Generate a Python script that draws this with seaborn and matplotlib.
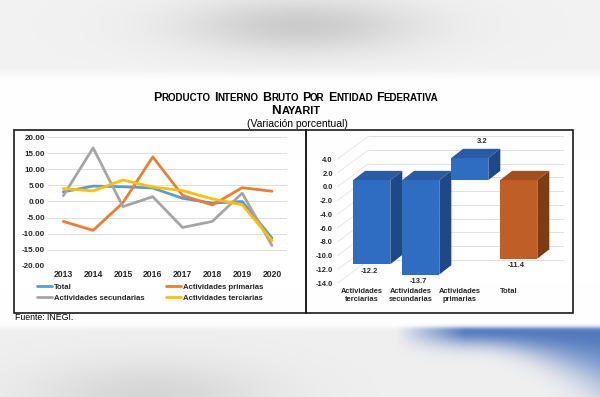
import numpy as np
import pandas as pd
import matplotlib
matplotlib.use("Agg")
import matplotlib.pyplot as plt
import matplotlib.transforms as mtransforms
from matplotlib.patches import Polygon, Rectangle
from matplotlib.lines import Line2D
from matplotlib.offsetbox import TextArea, HPacker, AnnotationBbox
import seaborn as sns

# Variación porcentual anual del PIB de Nayarit
anios = ['2013', '2014', '2015', '2016', '2017', '2018', '2019', '2020']
total = [3.0, 4.8, 4.6, 4.2, 1.0, -0.5, 0.0, -11.4]
primarias = [-6.2, -9.0, -0.4, 13.9, 1.9, -1.1, 4.3, 3.2]
secundarias = [1.8, 16.7, -1.6, 1.5, -8.1, -6.2, 2.6, -13.7]
terciarias = [4.0, 3.3, 6.7, 4.5, 3.4, 0.8, -1.0, -12.2]

series = ['Total', 'Actividades primarias', 'Actividades secundarias', 'Actividades terciarias']
colores_lineas = ['#5B9BD5', '#ED7D31', '#A5A5A5', '#FFC000']

# Variación 2020 por sector
sectores = ['Actividades\nterciarias', 'Actividades\nsecundarias', 'Actividades\nprimarias', 'Total']
valores_2020 = [-12.2, -13.7, 3.2, -11.4]
colores_frente = ['#2F6DC2', '#2F6DC2', '#2F6DC2', '#BF5F27']
colores_arriba = ['#2A5CA6', '#2A5CA6', '#2A5CA6', '#A24F1E']
colores_lado = ['#1E4886', '#1E4886', '#1E4886', '#7E3C15']

sns.set_style("white")
plt.rcParams['font.family'] = ['Liberation Sans', 'DejaVu Sans']
texto = '#262626'

fig = plt.figure(figsize=(6, 3.97), dpi=100)

# fondo difuminado (foto del documento)
yy, xx = np.mgrid[0:397, 0:600].astype(float)
gris_sup = 0.95 - 0.15 * np.exp(-((xx - 300) / 120) ** 2 - ((yy - 25) / 28) ** 2)
m_sup = 1 / (1 + np.exp((yy - 74) / 2.5))
gris_inf = 0.94 - 0.10 * np.exp(-((xx - 150) / 120) ** 2 - ((yy - 395) / 35) ** 2)
m_inf = 1 / (1 + np.exp(-(yy - 327) / 1.2))
g = 1 - m_sup * (1 - gris_sup) - m_inf * (1 - gris_inf)
img = np.dstack([g, g, g])
avance = np.clip((xx - 470) / 130, 0, 1)
alto_azul = 16 + 38 * avance ** 2
wb = m_inf * 0.9 * np.clip((xx - 395) / 70, 0, 1) * np.exp(-(np.clip(yy - 329, 0, None) / alto_azul) ** 2)
azul = np.array([0.25, 0.42, 0.72])
img = img * (1 - wb[..., None]) + azul * wb[..., None]
bg = fig.add_axes([0, 0, 1, 1], zorder=-10)
bg.imshow(img, aspect='auto', interpolation='bilinear')
bg.axis('off')

# recuadros
W, H = 600, 397
for x0, x1 in [(13.5, 306), (306, 572.5)]:
    fig.add_artist(Rectangle((x0 / W, 1 - 312.5 / H), (x1 - x0) / W, (312.5 - 130) / H,
                             transform=fig.transFigure, fill=False, ec='#1a1a1a', lw=1.2))

# titulo en versalitas
def versalitas(frase, grande, chica, sep):
    palabras = []
    for p in frase.split():
        letras = [TextArea(p[0].upper(), textprops=dict(fontsize=grande, fontweight='bold', color='black'))]
        if len(p) > 1:
            letras.append(TextArea(p[1:].upper(), textprops=dict(fontsize=chica, fontweight='bold', color='black')))
        palabras.append(HPacker(children=letras, align='baseline', pad=0, sep=0))
    return HPacker(children=palabras, align='baseline', pad=0, sep=sep)

for frase, ypx, grande, chica in [('Producto Interno Bruto por Entidad Federativa', 98, 8.9, 7.0),
                                  ('Nayarit', 111.5, 9.6, 7.9)]:
    ab = AnnotationBbox(versalitas(frase, grande, chica, 2.4), (296 / W, 1 - ypx / H),
                        xycoords='figure fraction', frameon=False, box_alignment=(0.5, 0.5), pad=0)
    fig.add_artist(ab)
fig.text(297 / W, 1 - 124 / H, '(Variación porcentual)', ha='center', va='center', fontsize=7.5, color='black')
fig.text(15 / W, 1 - 317.5 / H, 'Fuente: INEGI.', ha='left', va='center', fontsize=6.3, color='black')

# ---- grafica de lineas ----
df = pd.DataFrame({
    'Año': anios * 4,
    'Variación': total + primarias + secundarias + terciarias,
    'Serie': np.repeat(series, len(anios)),
})
ax1 = fig.add_axes([48.4 / W, 1 - 265.7 / H, 238.5 / W, 128.4 / H])
ax1.set_facecolor('none')
sns.lineplot(data=df, x='Año', y='Variación', hue='Serie', hue_order=series,
             palette=dict(zip(series, colores_lineas)), lw=2.0, legend=False, sort=False, ax=ax1)
ax1.set_xlim(-0.5, 7.5)
ax1.set_ylim(-20, 20)
ax1.set_yticks(np.arange(-20, 21, 5))
ax1.set_yticklabels([f'{v:.2f}' for v in np.arange(-20, 21, 5)])
ax1.yaxis.grid(True, color='#d9d9d9', lw=0.6)
ax1.set_axisbelow(True)
ax1.set_xlabel('')
ax1.set_ylabel('')
ax1.tick_params(axis='y', length=0, labelsize=5.8, labelcolor=texto, pad=2.5)
ax1.tick_params(axis='x', length=0, labelsize=6.2, labelcolor=texto, pad=3)
for t in ax1.get_xticklabels() + ax1.get_yticklabels():
    t.set_fontweight('bold')
sns.despine(ax=ax1, left=True, bottom=True)

manejadores = [Line2D([], [], color=c, lw=2.0) for c in colores_lineas]
orden = [0, 2, 1, 3]
fig.legend([manejadores[i] for i in orden], [series[i] for i in orden], ncol=2,
           loc='upper left', bbox_to_anchor=(37 / W, 1 - 283.5 / H), frameon=False,
           borderpad=0, borderaxespad=0, handlelength=1.9, handletextpad=0.3,
           labelspacing=0.45, columnspacing=2.75,
           prop=dict(size=5.6, weight='bold'), labelcolor=texto)

# ---- grafica de barras 3D ----
ax2 = fig.add_axes([337.2 / W, 1 - 283.3 / H, 230.3 / W, 148.8 / H])
ax2.set_facecolor('none')
px_x, px_y = 49.0, 124 / 18
fx, fy = 10 / px_x, 6.7 / px_y      # plano de las barras
dx, dy = 12 / px_x, 9.3 / px_y      # profundidad de las barras
wx, wy = 31.6 / px_x, 23.3 / px_y   # pared del fondo

ticks = np.arange(-14, 5, 2)
for v in ticks:
    ax2.plot([-0.5, -0.5 + wx], [v, v + wy], color='#e3e3e3', lw=0.6, zorder=0)
    ax2.plot([-0.5 + wx, 4.11], [v + wy, v + wy], color='#d9d9d9', lw=0.6, zorder=0)

sns.barplot(x=sectores, y=valores_2020, hue=sectores, palette=colores_frente, width=0.76,
            saturation=1, legend=False, ax=ax2)
desplazar = mtransforms.ScaledTranslation(10 / 100, 6.7 / 100, fig.dpi_scale_trans)
barras = sorted(ax2.patches, key=lambda p: p.get_x())
for i, (p, v) in enumerate(zip(barras, valores_2020)):
    p.set_transform(ax2.transData + desplazar)
    p.set_zorder(2 + i)
    p.set_linewidth(0)
    x0, w = p.get_x(), p.get_width()
    arriba, abajo = max(v, 0), min(v, 0)
    xa, xb = x0 + fx, x0 + w + fx
    ya, yb = arriba + fy, abajo + fy
    ax2.add_patch(Polygon([(xa, ya), (xb, ya), (xb + dx, ya + dy), (xa + dx, ya + dy)],
                          closed=True, fc=colores_arriba[i], ec='none', zorder=2 + i))
    ax2.add_patch(Polygon([(xb, yb), (xb, ya), (xb + dx, ya + dy), (xb + dx, yb + dy)],
                          closed=True, fc=colores_lado[i], ec='none', zorder=2 + i))
    xc = x0 + w / 2 + fx
    if v < 0:
        ax2.annotate(f'{v:.1f}', (xc - 0.05, yb), xytext=(0, -2.5), textcoords='offset points',
                     ha='center', va='top', fontsize=5.4, fontweight='bold', color=texto)
    else:
        ax2.annotate(f'{v:.1f}', (xc + dx, ya + dy), xytext=(0, 2.5), textcoords='offset points',
                     ha='center', va='bottom', fontsize=5.4, fontweight='bold', color=texto)

ax2.set_xlim(-0.5, 4.2)
ax2.set_ylim(-14, 7.6)
ax2.set_yticks(ticks)
ax2.set_yticklabels([f'{v:.1f}' for v in ticks])
ax2.set_xlabel('')
ax2.set_ylabel('')
ax2.tick_params(length=0, labelsize=5.4, labelcolor=texto, pad=3.2)
for t in ax2.get_xticklabels() + ax2.get_yticklabels():
    t.set_fontweight('bold')
sns.despine(ax=ax2, left=True, bottom=True)

fig.savefig('out.png', dpi=100)
